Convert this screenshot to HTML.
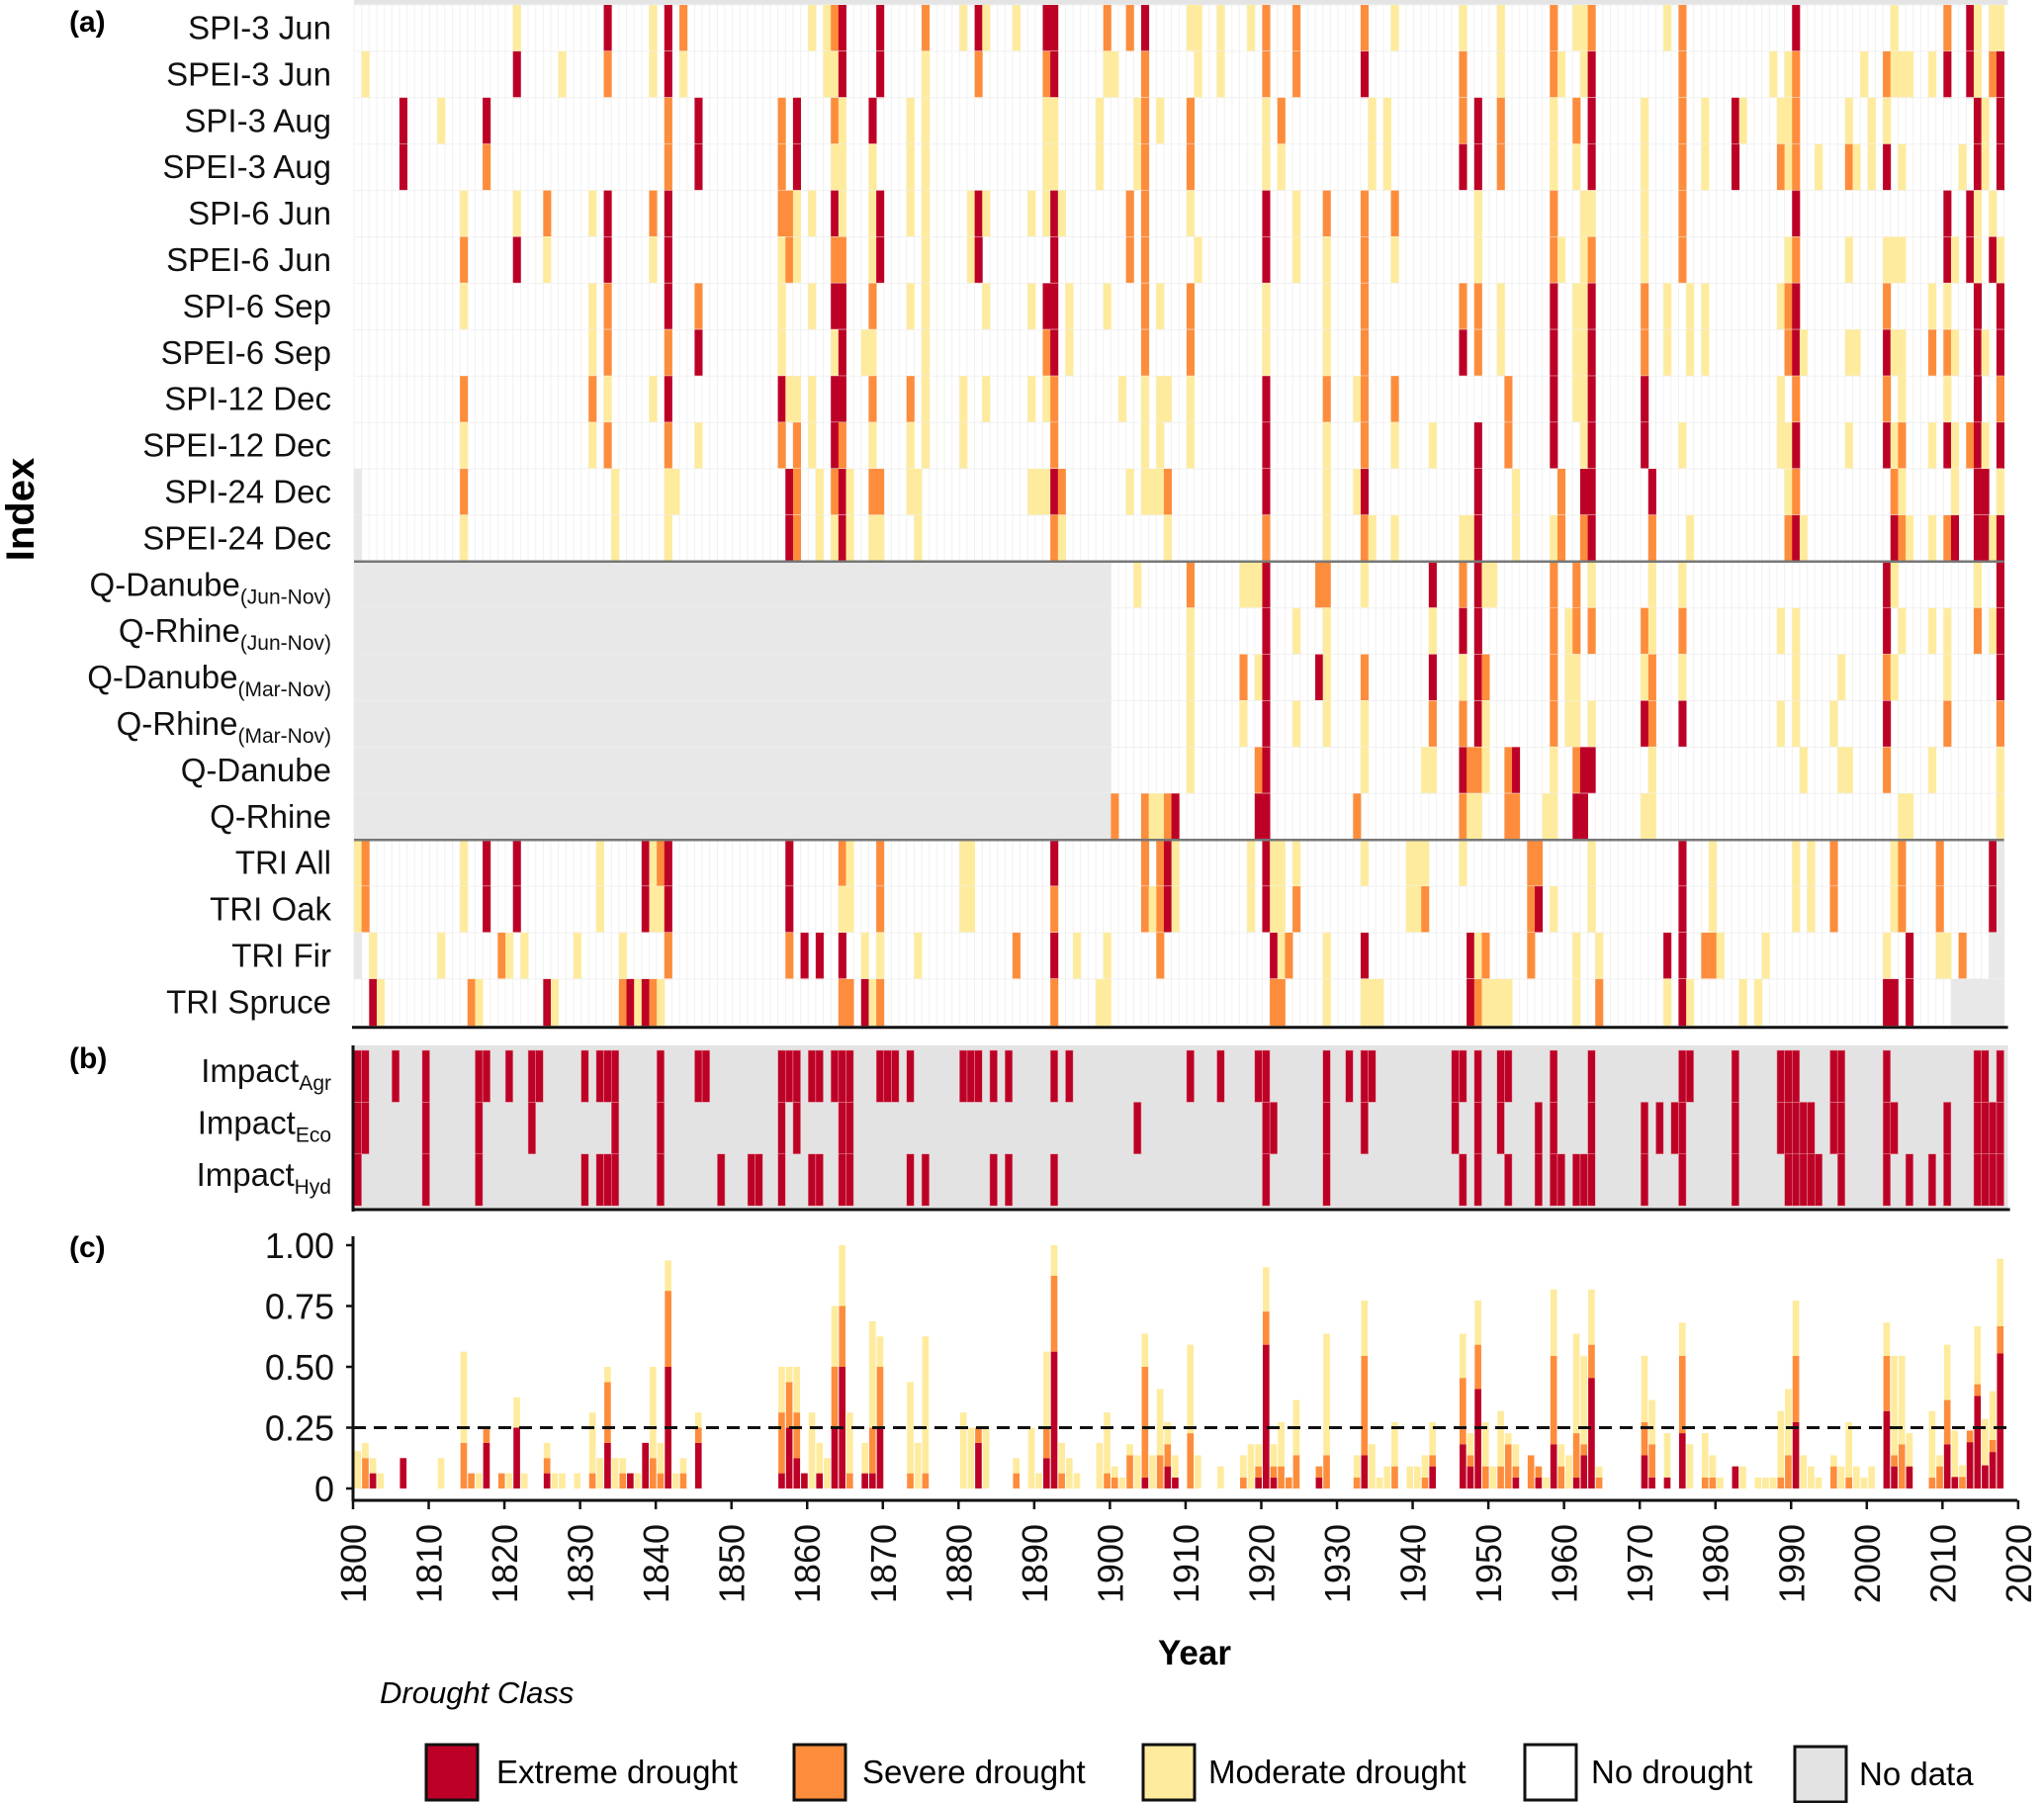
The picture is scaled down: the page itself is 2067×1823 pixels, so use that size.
<!DOCTYPE html>
<html><head><meta charset="utf-8"><style>
html,body{margin:0;padding:0;background:#fff;}
svg{display:block;font-family:"Liberation Sans",Arial,sans-serif;}
</style></head><body>
<svg id="chart" width="2067" height="1823" viewBox="0 0 2067 1823" xmlns="http://www.w3.org/2000/svg">
<g id="panelA"></g>
<g id="panelB"></g>
<g id="panelC"></g>
<g id="axes"></g>
<g id="legend">
  <text x="384" y="1722" font-size="31" font-style="italic">Drought Class</text>
  <rect x="431" y="1764" width="52" height="56" fill="#bd0026" stroke="#111" stroke-width="3"/>
  <text x="502" y="1803" font-size="33">Extreme drought</text>
  <rect x="803" y="1764" width="52" height="56" fill="#fd8d3c" stroke="#111" stroke-width="3"/>
  <text x="872" y="1803" font-size="33">Severe drought</text>
  <rect x="1156" y="1764" width="52" height="56" fill="#feeb9e" stroke="#111" stroke-width="3"/>
  <text x="1222" y="1803" font-size="33">Moderate drought</text>
  <rect x="1542" y="1764" width="52" height="56" fill="#fff" stroke="#111" stroke-width="3"/>
  <text x="1609" y="1803" font-size="33">No drought</text>
  <rect x="1815" y="1766" width="52" height="56" fill="#e3e3e3" stroke="#111" stroke-width="3"/>
  <text x="1880" y="1805" font-size="33">No data</text>
</g>
<text x="70" y="32" font-size="30" font-weight="bold">(a)</text>
<text x="70" y="1080" font-size="30" font-weight="bold">(b)</text>
<text x="70" y="1271" font-size="30" font-weight="bold">(c)</text>
<text x="0" y="0" font-size="40" font-weight="bold" text-anchor="middle" transform="translate(34,515) rotate(-90)">Index</text>
<text x="1208" y="1683" font-size="35" font-weight="bold" text-anchor="middle">Year</text>
</svg>
<script>
const NS='http://www.w3.org/2000/svg';
const COLORS=['#ffffff','#feeb9e','#fd8d3c','#bd0026'];
const yearsStart=1800, yearsEnd=2017;
const rowLabels=['SPI-3 Jun','SPEI-3 Jun','SPI-3 Aug','SPEI-3 Aug','SPI-6 Jun','SPEI-6 Jun','SPI-6 Sep','SPEI-6 Sep','SPI-12 Dec','SPEI-12 Dec','SPI-24 Dec','SPEI-24 Dec','Q-Danube|(Jun-Nov)','Q-Rhine|(Jun-Nov)','Q-Danube|(Mar-Nov)','Q-Rhine|(Mar-Nov)','Q-Danube','Q-Rhine','TRI All','TRI Oak','TRI Fir','TRI Spruce'];
const spi3Jun=[[1821,1],[1833,3],[1839,1],[1841,3],[1843,2],[1860,1],[1862,1],[1863,2],[1864,3],[1869,3],[1875,2],[1880,1],[1882,3],[1883,1],[1887,1],[1891,3],[1892,3],[1899,2],[1902,2],[1904,3],[1910,1],[1911,1],[1914,1],[1918,1],[1920,2],[1924,2],[1933,2],[1937,1],[1946,1],[1951,1],[1958,2],[1961,1],[1962,1],[1963,2],[1973,1],[1975,2],[1990,3],[2003,1],[2010,2],[2013,3],[2014,1],[2016,1],[2017,1]];
const spei3Jun=[[1801,1],[1821,3],[1827,1],[1833,2],[1839,1],[1841,3],[1843,1],[1862,1],[1863,1],[1864,3],[1869,3],[1875,1],[1882,2],[1891,2],[1892,3],[1899,1],[1900,1],[1904,2],[1911,1],[1914,1],[1920,2],[1924,2],[1933,3],[1946,2],[1951,1],[1958,2],[1959,1],[1962,1],[1963,3],[1975,2],[1987,1],[1989,1],[1990,2],[1999,1],[2002,2],[2003,1],[2004,1],[2005,1],[2008,1],[2010,3],[2013,3],[2014,1],[2016,2],[2017,3]];
const spi3Aug=[[1806,3],[1811,1],[1817,3],[1841,2],[1845,3],[1856,2],[1858,3],[1863,2],[1864,1],[1868,3],[1873,1],[1875,1],[1891,1],[1892,1],[1898,1],[1903,1],[1904,2],[1906,1],[1910,2],[1920,1],[1922,2],[1934,1],[1936,1],[1946,2],[1948,3],[1951,2],[1958,1],[1961,2],[1963,3],[1970,1],[1975,2],[1978,1],[1982,3],[1983,1],[1988,1],[1989,1],[1990,2],[1997,1],[2000,1],[2002,1],[2014,3],[2015,1],[2017,3]];
const spei3Aug=[[1806,3],[1817,2],[1841,2],[1845,3],[1856,2],[1858,3],[1863,1],[1864,1],[1868,1],[1873,1],[1875,1],[1891,1],[1892,1],[1898,1],[1903,1],[1904,2],[1910,2],[1920,1],[1922,1],[1934,1],[1936,1],[1946,3],[1948,3],[1951,2],[1958,1],[1961,1],[1963,3],[1970,1],[1975,2],[1978,1],[1982,3],[1988,2],[1989,1],[1990,2],[1993,1],[1997,2],[1998,1],[2000,1],[2002,3],[2004,1],[2012,1],[2014,3],[2015,1],[2017,3]];
const spi6Jun=[[1814,1],[1821,1],[1825,2],[1831,1],[1833,3],[1839,2],[1841,3],[1856,2],[1857,2],[1858,1],[1860,1],[1863,3],[1864,1],[1868,1],[1869,3],[1873,1],[1875,1],[1881,1],[1882,3],[1883,1],[1889,1],[1891,1],[1892,3],[1893,1],[1902,2],[1904,2],[1910,1],[1920,3],[1924,1],[1928,2],[1933,2],[1937,2],[1948,1],[1958,2],[1962,1],[1963,1],[1970,1],[1975,2],[1990,3],[2010,3],[2013,3],[2014,1],[2016,1]];
const spei6Jun=[[1814,2],[1821,3],[1825,1],[1833,3],[1839,1],[1841,3],[1856,1],[1857,2],[1858,1],[1863,2],[1864,2],[1868,1],[1869,3],[1875,1],[1881,1],[1882,3],[1892,3],[1902,2],[1904,2],[1911,1],[1920,3],[1924,1],[1928,1],[1933,2],[1937,1],[1948,1],[1958,2],[1959,1],[1962,1],[1963,2],[1970,1],[1975,2],[1989,1],[1990,2],[1997,1],[2002,1],[2003,1],[2004,1],[2010,3],[2011,1],[2013,3],[2014,1],[2016,3],[2017,1]];
const spi6Sep=[[1814,1],[1831,1],[1833,2],[1841,3],[1845,2],[1856,1],[1860,1],[1863,3],[1864,3],[1868,2],[1873,1],[1875,1],[1883,1],[1889,1],[1891,3],[1892,3],[1894,1],[1899,1],[1904,2],[1906,1],[1910,2],[1920,1],[1928,1],[1933,2],[1946,2],[1948,2],[1951,1],[1958,3],[1961,1],[1962,1],[1963,3],[1970,2],[1973,1],[1976,1],[1978,1],[1988,1],[1989,2],[1990,3],[2002,2],[2008,1],[2010,1],[2014,3],[2017,3]];
const spei6Sep=[[1831,1],[1833,2],[1841,2],[1845,3],[1856,1],[1863,1],[1864,3],[1867,1],[1868,1],[1875,1],[1891,2],[1892,3],[1894,1],[1904,2],[1910,2],[1920,1],[1928,1],[1933,2],[1946,3],[1948,2],[1951,1],[1958,3],[1961,1],[1962,1],[1963,3],[1970,2],[1973,1],[1976,1],[1978,1],[1989,2],[1990,3],[1991,1],[1997,1],[1998,1],[2002,3],[2003,1],[2004,1],[2008,2],[2010,2],[2011,1],[2014,3],[2015,1],[2017,3]];
const spi12Dec=[[1814,2],[1831,2],[1833,1],[1839,1],[1841,3],[1856,3],[1857,1],[1858,1],[1860,1],[1863,3],[1864,3],[1868,2],[1873,2],[1875,1],[1880,1],[1883,1],[1889,1],[1891,1],[1892,2],[1901,1],[1904,1],[1906,1],[1907,1],[1910,1],[1920,3],[1928,2],[1932,1],[1933,2],[1937,2],[1952,2],[1958,3],[1961,1],[1962,1],[1963,3],[1970,3],[1988,1],[1990,2],[2002,2],[2004,1],[2010,1],[2014,3],[2017,2]];
const spei12Dec=[[1814,1],[1831,1],[1833,2],[1841,2],[1845,1],[1856,2],[1858,2],[1860,1],[1863,3],[1864,2],[1868,1],[1873,1],[1875,1],[1880,1],[1892,2],[1904,1],[1906,1],[1910,1],[1920,3],[1928,1],[1933,2],[1937,1],[1942,1],[1948,3],[1952,2],[1958,3],[1962,1],[1963,3],[1970,3],[1975,1],[1988,1],[1989,1],[1990,3],[1997,1],[2002,3],[2003,1],[2004,2],[2008,1],[2010,3],[2011,1],[2013,2],[2014,3],[2015,1],[2017,3]];
const spi24Dec=[[1814,2],[1834,1],[1841,1],[1842,1],[1857,3],[1858,2],[1861,1],[1863,2],[1864,3],[1865,1],[1868,2],[1869,2],[1873,1],[1874,1],[1889,1],[1890,1],[1891,1],[1892,3],[1893,2],[1902,1],[1904,1],[1905,1],[1906,1],[1907,2],[1920,3],[1928,1],[1932,1],[1933,3],[1948,3],[1953,1],[1959,2],[1962,3],[1963,3],[1971,3],[1989,1],[1990,2],[2003,2],[2004,1],[2011,1],[2014,3],[2015,3],[2017,1]];
const spei24Dec=[[1814,1],[1834,1],[1841,1],[1857,3],[1858,2],[1861,1],[1863,1],[1864,3],[1865,1],[1868,1],[1869,1],[1874,1],[1892,2],[1893,1],[1907,1],[1920,2],[1928,1],[1933,2],[1934,1],[1937,1],[1946,1],[1947,1],[1948,3],[1953,1],[1958,1],[1959,2],[1962,2],[1963,3],[1971,2],[1976,1],[1989,2],[1990,3],[1991,1],[2003,3],[2004,2],[2005,1],[2008,1],[2010,2],[2011,3],[2014,3],[2015,3],[2016,1],[2017,3]];
const qDanubeJN=[[1903,1],[1910,2],[1917,1],[1918,1],[1919,1],[1920,3],[1927,2],[1928,2],[1933,1],[1942,3],[1946,2],[1948,3],[1949,1],[1950,1],[1958,2],[1961,2],[1963,1],[1971,1],[1975,1],[2002,3],[2003,1],[2014,1],[2017,3]];
const qRhineJN=[[1910,1],[1920,3],[1924,1],[1928,1],[1942,1],[1946,3],[1948,3],[1958,2],[1960,1],[1961,2],[1963,2],[1970,2],[1971,1],[1975,2],[1988,1],[1990,1],[2002,3],[2004,1],[2008,1],[2010,1],[2014,2],[2016,1],[2017,3]];
const qDanubeMN=[[1910,1],[1917,2],[1919,1],[1920,3],[1927,3],[1928,1],[1933,2],[1942,3],[1946,1],[1948,3],[1949,2],[1958,2],[1960,1],[1961,1],[1970,1],[1971,2],[1975,1],[1990,1],[1996,1],[2002,2],[2003,1],[2010,1],[2017,3]];
const qRhineMN=[[1910,1],[1917,1],[1920,3],[1924,1],[1928,1],[1933,1],[1942,2],[1946,2],[1948,3],[1949,1],[1958,2],[1960,1],[1961,1],[1963,1],[1970,3],[1971,2],[1975,3],[1988,1],[1990,1],[1995,1],[2002,3],[2010,2],[2017,2]];
const qDanube=[[1910,1],[1919,2],[1920,3],[1933,1],[1941,1],[1942,1],[1946,3],[1947,2],[1948,2],[1949,1],[1952,2],[1953,3],[1958,1],[1961,2],[1962,3],[1963,3],[1971,1],[1991,1],[1996,1],[1997,1],[2002,2],[2008,1],[2017,1]];
const qRhine=[[1900,2],[1904,2],[1905,1],[1906,1],[1907,2],[1908,3],[1919,3],[1920,3],[1932,2],[1946,2],[1947,1],[1948,1],[1952,2],[1953,2],[1957,1],[1958,1],[1961,3],[1962,3],[1970,1],[1971,1],[2004,1],[2005,1],[2017,1]];
const triAll=[[1800,1],[1801,2],[1814,1],[1817,3],[1821,3],[1832,1],[1838,3],[1839,1],[1840,2],[1841,3],[1857,3],[1864,2],[1865,1],[1869,2],[1880,1],[1881,1],[1892,3],[1904,2],[1906,2],[1907,3],[1908,1],[1918,1],[1920,3],[1921,1],[1922,1],[1924,1],[1933,1],[1939,1],[1940,1],[1941,1],[1946,1],[1955,2],[1956,2],[1963,1],[1975,3],[1979,1],[1990,1],[1992,1],[1995,2],[2003,1],[2004,2],[2009,2],[2016,3]];
const triOak=[[1800,1],[1801,2],[1814,1],[1817,3],[1821,3],[1832,1],[1838,3],[1839,1],[1840,1],[1841,3],[1857,3],[1864,1],[1865,1],[1869,2],[1880,1],[1881,1],[1892,2],[1904,2],[1905,1],[1906,2],[1907,3],[1908,1],[1918,1],[1920,3],[1921,1],[1922,1],[1924,2],[1939,1],[1940,1],[1941,2],[1955,2],[1956,3],[1958,1],[1963,1],[1975,3],[1979,1],[1990,1],[1992,1],[1995,2],[2003,1],[2004,2],[2009,2],[2016,3]];
const triFir=[[1802,1],[1811,1],[1819,2],[1820,1],[1822,1],[1829,1],[1835,1],[1841,2],[1857,2],[1859,3],[1861,3],[1864,3],[1867,1],[1869,1],[1874,1],[1887,2],[1892,3],[1895,1],[1899,1],[1906,2],[1921,3],[1922,1],[1923,2],[1928,1],[1933,3],[1947,3],[1948,1],[1949,2],[1955,2],[1961,1],[1964,1],[1973,3],[1975,3],[1978,2],[1979,2],[1980,1],[1986,1],[2002,1],[2005,3],[2009,1],[2010,1],[2012,2]];
const triSpruce=[[1802,3],[1803,1],[1815,2],[1816,1],[1825,3],[1826,1],[1835,2],[1836,3],[1837,1],[1838,3],[1839,2],[1840,1],[1864,2],[1865,2],[1867,3],[1868,1],[1869,2],[1892,2],[1898,1],[1899,1],[1921,2],[1922,2],[1928,1],[1933,1],[1934,1],[1935,1],[1947,3],[1948,2],[1949,1],[1950,1],[1951,1],[1952,1],[1961,1],[1964,2],[1973,1],[1975,3],[1976,1],[1983,1],[1985,1],[2002,3],[2003,3],[2005,3]];
const rowData=[spi3Jun,spei3Jun,spi3Aug,spei3Aug,spi6Jun,spei6Jun,spi6Sep,spei6Sep,spi12Dec,spei12Dec,spi24Dec,spei24Dec,qDanubeJN,qRhineJN,qDanubeMN,qRhineMN,qDanube,qRhine,triAll,triOak,triFir,triSpruce];
// no-data ranges: [row, firstYear, lastYear]
const noDataRanges=[[10,1800,1800],[11,1800,1800],[12,1800,1899],[13,1800,1899],[14,1800,1899],[15,1800,1899],[16,1800,1899],[17,1800,1899],[18,2017,2017],[19,2017,2017],[20,1800,1800],[20,2016,2017],[21,2011,2017]];
const impactLabels=['Agr','Eco','Hyd'];
const impactAgr=[1800,1801,1805,1809,1816,1817,1820,1823,1824,1830,1832,1833,1834,1840,1845,1846,1856,1857,1858,1860,1861,1863,1864,1865,1869,1870,1871,1873,1880,1881,1882,1884,1886,1892,1894,1910,1914,1919,1920,1928,1931,1933,1934,1945,1946,1948,1951,1952,1958,1963,1975,1976,1982,1988,1989,1990,1995,1996,2002,2014,2015,2017];
const impactEco=[1800,1801,1809,1816,1823,1834,1840,1856,1858,1864,1865,1903,1920,1921,1928,1933,1945,1948,1951,1956,1958,1963,1970,1972,1974,1975,1982,1988,1989,1990,1991,1992,1995,1996,2002,2003,2010,2014,2015,2016,2017];
const impactHyd=[1800,1809,1816,1830,1832,1833,1834,1840,1848,1852,1853,1856,1860,1861,1864,1865,1873,1875,1884,1886,1892,1920,1928,1946,1948,1952,1956,1958,1959,1961,1962,1963,1970,1975,1982,1989,1990,1991,1992,1993,1996,2002,2005,2008,2010,2014,2015,2016,2017];
const impactData=[impactAgr,impactEco,impactHyd];
const yTicks=[0,0.25,0.5,0.75,1];
const yTickLabels=['0','0.25','0.50','0.75','1.00'];
const xTicks=[1800,1810,1820,1830,1840,1850,1860,1870,1880,1890,1900,1910,1920,1930,1940,1950,1960,1970,1980,1990,2000,2010,2020];
const threshold=0.25;

const YW=7.654;
function xTick(y){return 357+(y-1800)*YW;}
function xCell(y){return 358+(y-1800)*YW;}
const A_TOP=5, ROW_H=46.9;
function yRow(r){return A_TOP+r*ROW_H;}
const B_TOP=1062, B_ROW=52.4;
function yImp(r){return B_TOP+r*B_ROW;}
const C_ZERO=1505, C_H=246;
function yVal(v){return C_ZERO-v*C_H;}

function mk(tag,attrs,parent){const e=document.createElementNS(NS,tag);for(const k in attrs)e.setAttribute(k,attrs[k]);parent.appendChild(e);return e;}
const gA=document.getElementById('panelA'),gB=document.getElementById('panelB'),gC=document.getElementById('panelC'),gX=document.getElementById('axes');
const nYears=yearsEnd-yearsStart+1;
const xEnd=xCell(yearsEnd+1);

const grid=[];
for(let r=0;r<rowData.length;r++){const row=new Array(nYears).fill(0);rowData[r].forEach(p=>{const i=p[0]-yearsStart;if(i>=0&&i<nYears)row[i]=p[1];});grid.push(row);}
noDataRanges.forEach(n=>{for(let y=n[1];y<=n[2];y++)grid[n[0]][y-yearsStart]=-1;});

// panel a
const bgA=mk('rect',{x:xCell(1800),y:A_TOP,width:xEnd-xCell(1800),height:ROW_H*22,fill:'#fff'},gA);


const topLine=mk('rect',{x:xCell(1800),y:0,width:xEnd-xCell(1800)+4,height:5,fill:'#e4e4e4'},gA);


for(let i=0;i<=nYears;i++){const l=mk('line',{x1:xCell(1800+i),x2:xCell(1800+i),y1:A_TOP,y2:A_TOP+ROW_H*22,stroke:'#f1f1f1','stroke-width':1},gA);

}
for(let r=0;r<22;r++){
  const hl=mk('line',{x1:xCell(1800),x2:xEnd,y1:yRow(r),y2:yRow(r),stroke:'#f1f1f1','stroke-width':1},gA);
  
  
  for(let i=0;i<nYears;i++){const v=grid[r][i];if(v===0)continue;
    const c=mk('rect',{x:xCell(1800+i),y:yRow(r),width:YW+0.4,height:ROW_H+0.4,fill:v<0?'#e8e8e8':COLORS[v]},gA);
    
    }
  const parts=rowLabels[r].split('|');
  const t=mk('text',{x:335,y:yRow(r)+ROW_H/2+11,'font-size':33,'text-anchor':'end',fill:'#111'},gA);
  
  
  t.textContent=parts[0];
  if(parts[1]){const s=mk('tspan',{'font-size':21,dy:8},t);s.textContent=parts[1];}
}
[12,18].forEach(r=>{const l=mk('line',{x1:xCell(1800),x2:xEnd,y1:yRow(r),y2:yRow(r),stroke:'#777','stroke-width':2.5},gA);

});
const axA=mk('line',{x1:xCell(1800)-2,x2:xEnd+4,y1:A_TOP+ROW_H*22+2,y2:A_TOP+ROW_H*22+2,stroke:'#111','stroke-width':3},gA);



// panel b
const bgB=mk('rect',{x:xCell(1800)-2,y:1057,width:xEnd-xCell(1800)+6,height:165,fill:'#e3e3e3'},gB);


impactData.forEach((arr,r)=>{
  arr.forEach(y=>{const b=mk('rect',{x:xCell(y),y:yImp(r),width:YW,height:B_ROW,fill:'#bd0026',stroke:'#e8a0a8','stroke-width':0.5},gB);
  
  });
  const t=mk('text',{x:335,y:yImp(r)+B_ROW/2+6,'font-size':33,'text-anchor':'end',fill:'#111'},gB);
  
  
  t.textContent='Impact';
  const s=mk('tspan',{'font-size':21,dy:8},t);s.textContent=impactLabels[r];
});
const bl=mk('line',{x1:357,x2:357,y1:1057,y2:1225,stroke:'#111','stroke-width':3},gB);


const bb=mk('line',{x1:356,x2:xEnd+6,y1:1223,y2:1223,stroke:'#111','stroke-width':3},gB);



// panel c (derived fractions from panel a)
for(let i=0;i<nYears;i++){
  let avail=0,cnt=[0,0,0,0];
  for(let r=0;r<grid.length;r++){const v=grid[r][i];if(v<0)continue;avail++;cnt[v]++;}
  if(!avail)continue;
  let acc=0;
  [3,2,1].forEach(cl=>{const f=cnt[cl]/avail;if(f<=0)return;
    const b=mk('rect',{x:xCell(1800+i)+0.5,y:yVal(acc+f),width:YW-1,height:f*C_H,fill:COLORS[cl]},gC);
    
    
    acc+=f;});
}
const dl=mk('line',{x1:357,x2:2036,y1:yVal(threshold),y2:yVal(threshold),stroke:'#111','stroke-width':3,'stroke-dasharray':'13 8'},gC);



const cl=mk('line',{x1:357,x2:357,y1:1250,y2:1518,stroke:'#111','stroke-width':3},gX);


const cx=mk('line',{x1:356,x2:2040,y1:1517,y2:1517,stroke:'#111','stroke-width':3},gX);


yTicks.forEach((v,k)=>{
  const tk=mk('line',{x1:350,x2:357,y1:yVal(v),y2:yVal(v),stroke:'#111','stroke-width':2.5},gX);
  
  
  const t=mk('text',{x:338,y:yVal(v)+13,'font-size':36,'text-anchor':'end',fill:'#111'},gX);
  
  
  t.textContent=yTickLabels[k];
});
xTicks.forEach(y=>{
  const x=xTick(y);
  const tk=mk('line',{x1:x,x2:x,y1:1517,y2:1526,stroke:'#111','stroke-width':2.5},gX);
  
  
  const t=mk('text',{x:0,y:0,'font-size':36,'text-anchor':'end',fill:'#111',transform:'translate('+(x+13)+',1541) rotate(-90)'},gX);
  
  
  t.textContent=y;
});
</script>
</body></html>
